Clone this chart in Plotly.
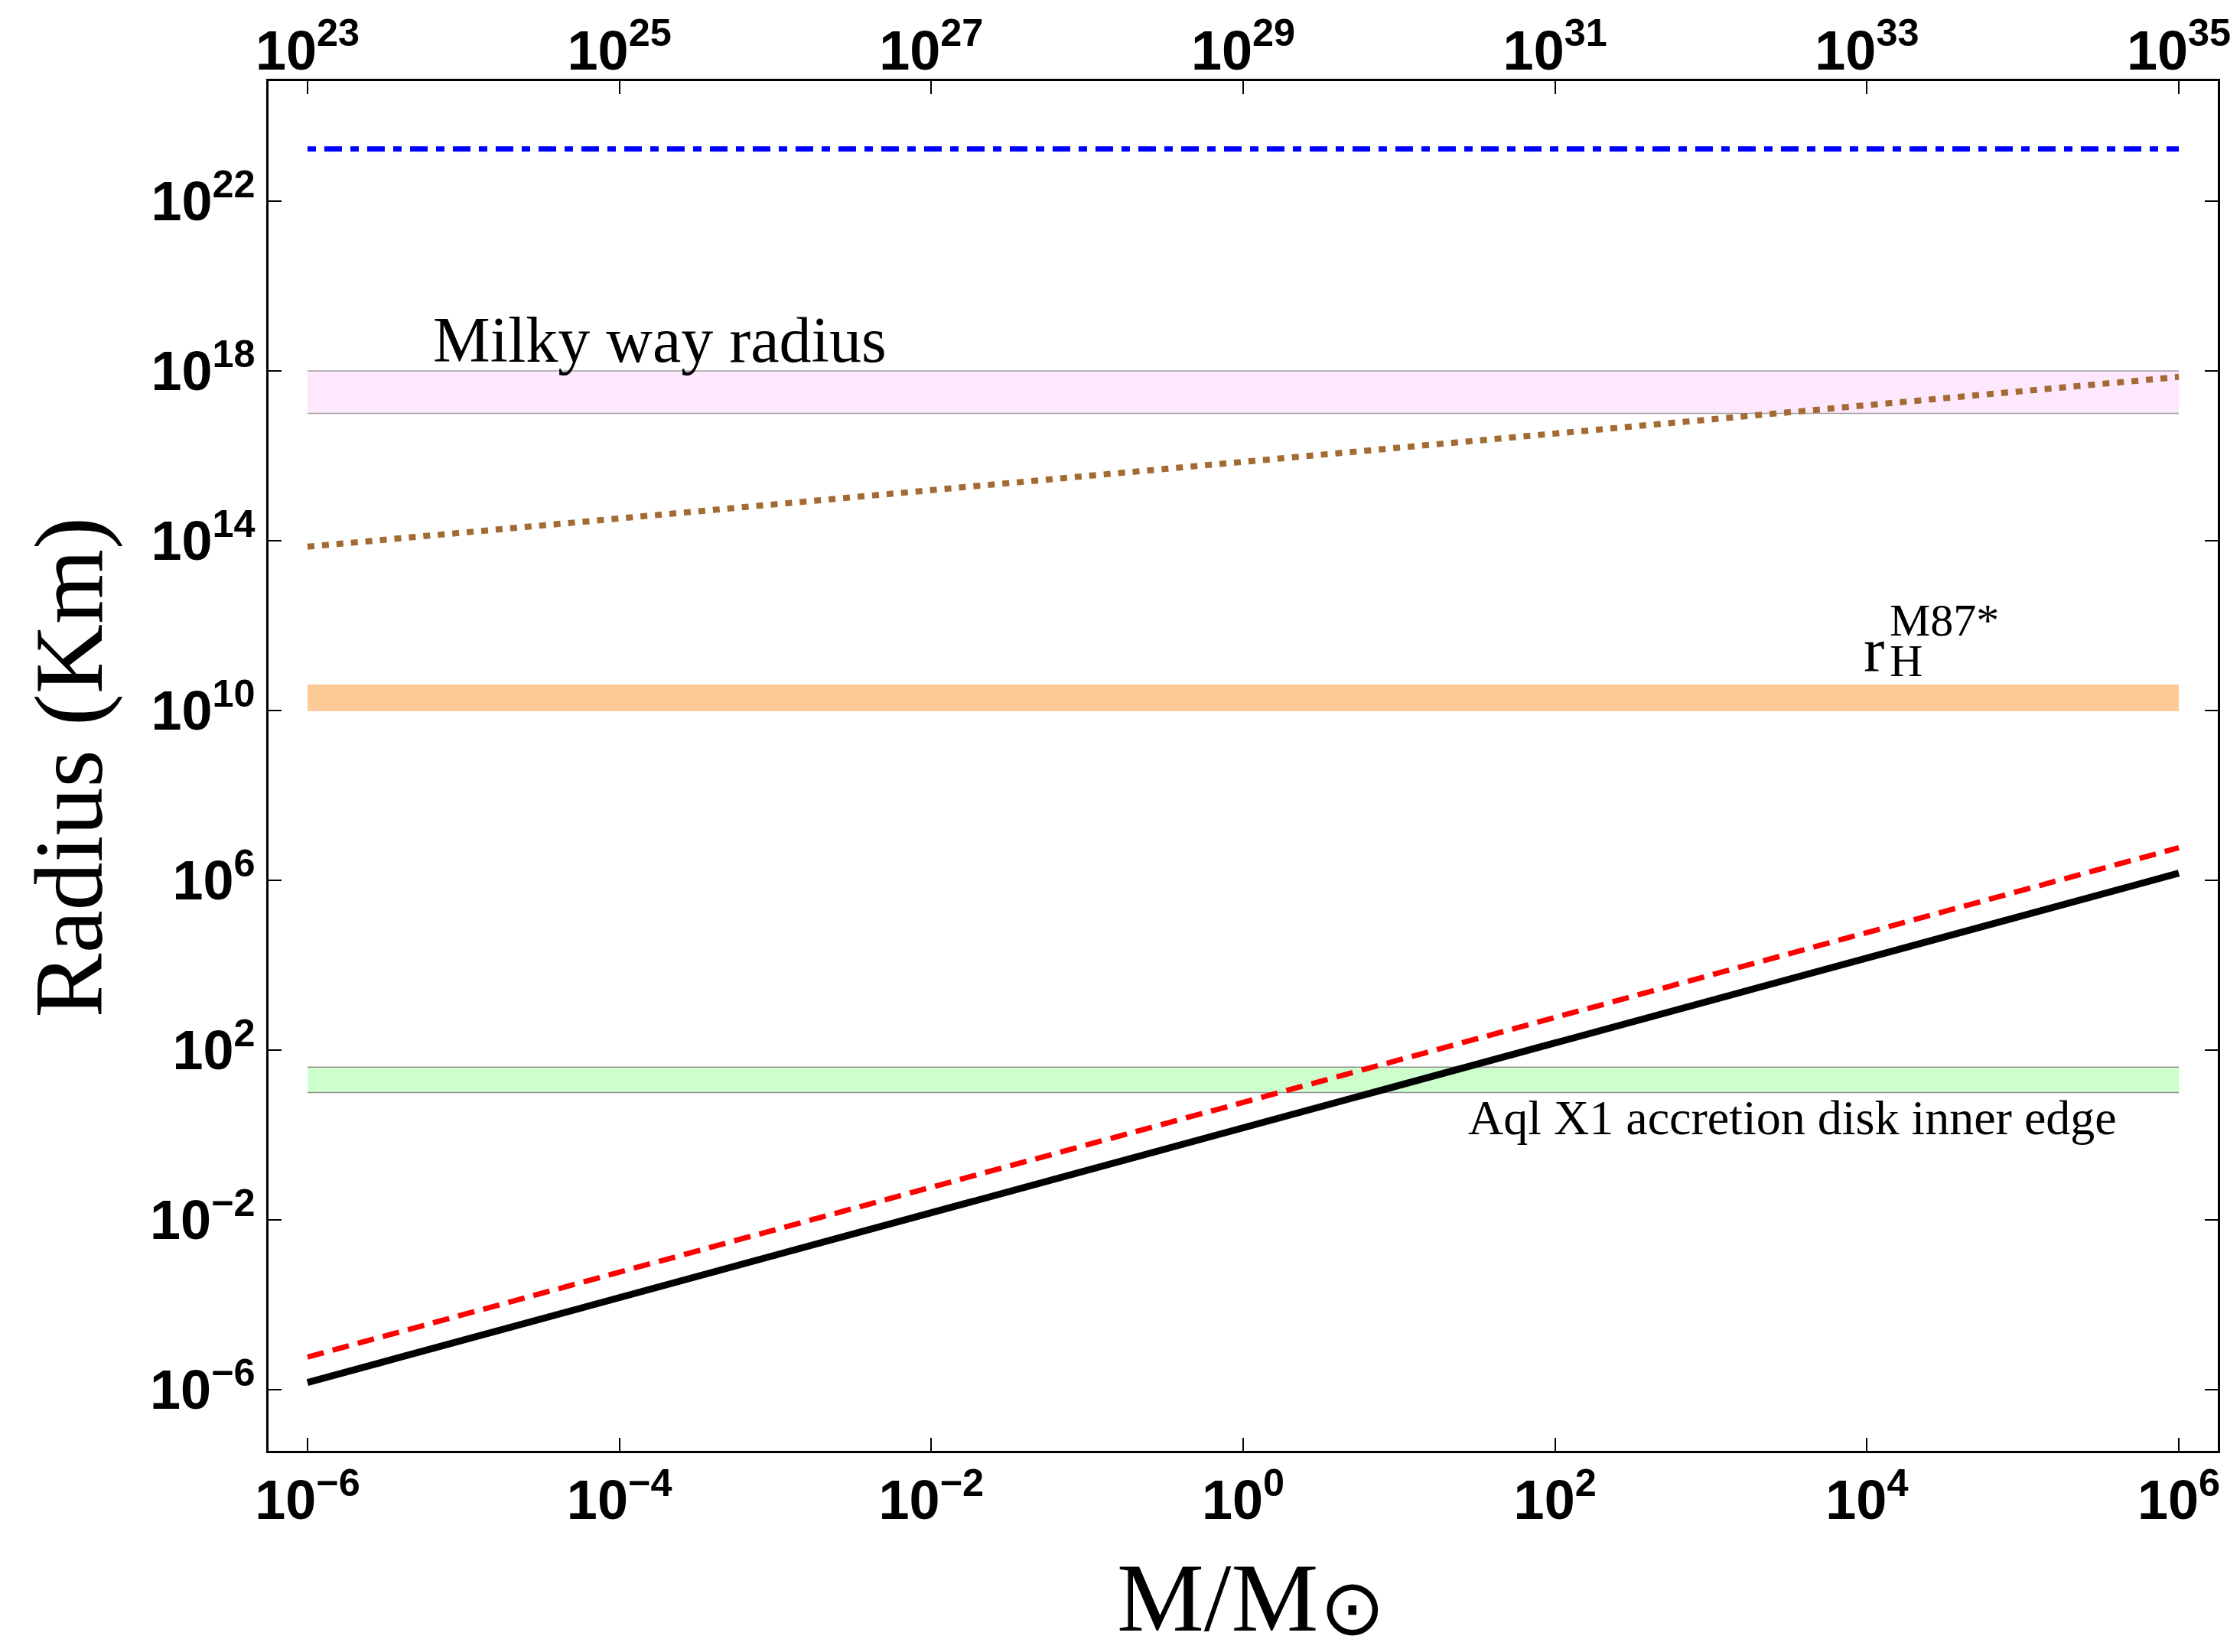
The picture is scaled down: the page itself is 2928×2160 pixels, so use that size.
import plotly.graph_objects as go

# ---------------- data ----------------
mass_ends = [1e-6, 1e6]                      # M / M_sun (line end points)
r_black = [10**-5.83, 10**6.17]              # km, solid black
r_red = [10**-5.23, 10**6.77]                # km, dashed red
r_brown = [10**13.86, 10**17.86]             # km, dotted brown
r_blue = [10**23.23, 10**23.23]              # km, dash-dot blue

band_milky = [1e17, 1e18]                    # Milky way radius band
band_m87 = [1e10, 10**10.6]                  # r_H of M87*
band_aql = [1e1, 10**1.6]                    # Aql X1 inner edge

x_tickvals = [1e-6, 1e-4, 1e-2, 1e0, 1e2, 1e4, 1e6]
x_ticktext = ["10<sup>−6</sup>", "10<sup>−4</sup>", "10<sup>−2</sup>", "10<sup>0</sup>",
              "10<sup>2</sup>", "10<sup>4</sup>", "10<sup>6</sup>"]
top_tickvals = [1e23, 1e25, 1e27, 1e29, 1e31, 1e33, 1e35]
top_ticktext = ["10<sup>23</sup>", "10<sup>25</sup>", "10<sup>27</sup>", "10<sup>29</sup>",
                "10<sup>31</sup>", "10<sup>33</sup>", "10<sup>35</sup>"]
y_tickvals = [1e-6, 1e-2, 1e2, 1e6, 1e10, 1e14, 1e18, 1e22]
y_ticktext = ["10<sup>−6</sup>", "10<sup>−2</sup>", "10<sup>2</sup>", "10<sup>6</sup>",
              "10<sup>10</sup>", "10<sup>14</sup>", "10<sup>18</sup>", "10<sup>22</sup>"]

# ---------------- figure ----------------
fig = go.Figure()


def add_band(lo_hi, fill, edge, edge_w):
    fig.add_trace(go.Scatter(x=mass_ends, y=[lo_hi[0]] * 2, mode="lines",
                             line=dict(color=edge, width=edge_w),
                             hoverinfo="skip", showlegend=False))
    fig.add_trace(go.Scatter(x=mass_ends, y=[lo_hi[1]] * 2, mode="lines",
                             line=dict(color=edge, width=edge_w),
                             fill="tonexty", fillcolor=fill,
                             hoverinfo="skip", showlegend=False))


add_band(band_milky, "#FEE8FE", "#A0A0A0", 1.5)
add_band(band_m87, "#FECB98", "#FEC590", 1.5)
add_band(band_aql, "#CCFFCC", "#909090", 1.5)

fig.add_trace(go.Scatter(x=mass_ends, y=r_brown, mode="lines",
                         line=dict(color="#A36B33", width=8, dash="9px,10px"),
                         showlegend=False))
fig.add_trace(go.Scatter(x=mass_ends, y=r_blue, mode="lines",
                         line=dict(color="#0000FF", width=7, dash="11px,11px,23px,11px"),
                         showlegend=False))
fig.add_trace(go.Scatter(x=mass_ends, y=r_red, mode="lines",
                         line=dict(color="#FF0000", width=7, dash="22px,12px"),
                         showlegend=False))
fig.add_trace(go.Scatter(x=mass_ends, y=r_black, mode="lines",
                         line=dict(color="#000000", width=9),
                         showlegend=False))
# invisible trace to activate the top axis
fig.add_trace(go.Scatter(x=[top_tickvals[0], top_tickvals[-1]], y=[1, 1], xaxis="x2",
                         mode="lines", line=dict(width=0, color="rgba(0,0,0,0)"),
                         hoverinfo="skip", showlegend=False))

tickfont = dict(family="Liberation Sans, Arial, sans-serif", size=72, color="black",
                weight="bold")
serif = "Liberation Serif, DejaVu Serif, serif"

fig.update_layout(
    width=2928, height=2160, autosize=False,
    margin=dict(l=351, r=18, t=106, b=263),
    paper_bgcolor="white", plot_bgcolor="white",
    xaxis=dict(type="log", range=[-6.25, 6.25], tickvals=x_tickvals, ticktext=x_ticktext,
               ticks="inside", ticklen=17, tickwidth=2, tickcolor="black",
               showline=True, linewidth=3, linecolor="black", mirror=True,
               showgrid=False, zeroline=False, tickfont=tickfont),
    xaxis2=dict(type="log", range=[22.75, 35.25], overlaying="x", side="top", anchor="y",
                tickvals=top_tickvals, ticktext=top_ticktext,
                ticks="inside", ticklen=17, tickwidth=2, tickcolor="black",
                showline=False, showgrid=False, zeroline=False, tickfont=tickfont),
    yaxis=dict(type="log", range=[-7.44, 24.83], tickvals=y_tickvals, ticktext=y_ticktext,
               ticks="inside", ticklen=17, tickwidth=2, tickcolor="black",
               showline=True, linewidth=3, linecolor="black", mirror="ticks",
               showgrid=False, zeroline=False, tickfont=tickfont),
    annotations=[
        dict(text="Milky way radius", x=-3.74, y=18.74, xref="x", yref="y",
             showarrow=False, font=dict(family=serif, size=84, color="black"),
             xanchor="center", yanchor="middle"),
        dict(text="Aql X1 accretion disk inner edge", x=3.52, y=0.40, xref="x", yref="y",
             showarrow=False, font=dict(family=serif, size=64, color="black"),
             xanchor="center", yanchor="middle"),
        dict(text="r", x=4.044, y=11.42, xref="x", yref="y",
             showarrow=False, font=dict(family=serif, size=82, color="black"),
             xanchor="center", yanchor="middle"),
        dict(text="M87*", x=4.137, y=12.12, xref="x", yref="y",
             showarrow=False, font=dict(family=serif, size=60, color="black"),
             xanchor="left", yanchor="middle"),
        dict(text="H", x=4.137, y=11.18, xref="x", yref="y",
             showarrow=False, font=dict(family=serif, size=60, color="black"),
             xanchor="left", yanchor="middle"),
        dict(text="Radius (Km)", x=-0.102, y=0.499, xref="paper", yref="paper",
             showarrow=False, textangle=-90,
             font=dict(family=serif, size=126, color="black"),
             xanchor="center", yanchor="middle"),
        dict(text="M/M", x=(1597 - 351) / 2559, y=-0.107, xref="paper", yref="paper",
             showarrow=False, font=dict(family=serif, size=128, color="black"),
             xanchor="center", yanchor="middle"),
        dict(text="⊙", x=(1774 - 351) / 2559, y=(1897 - 2101) / 1791,
             xref="paper", yref="paper",
             showarrow=False, font=dict(family="DejaVu Sans, serif", size=102, color="black"),
             xanchor="center", yanchor="middle"),
    ],
)

fig.write_html("out.html")
